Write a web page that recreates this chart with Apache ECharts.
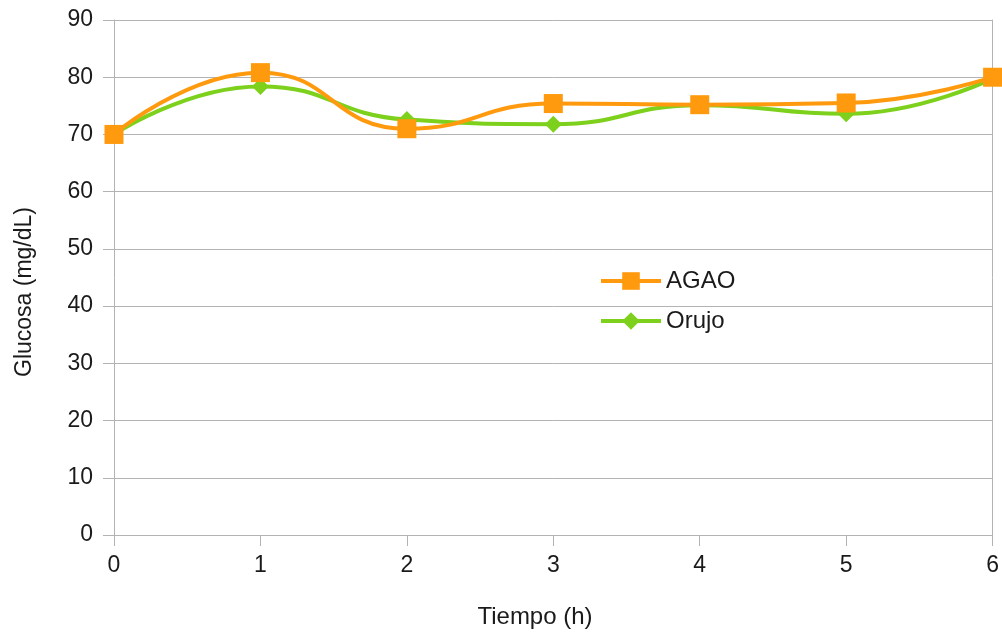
<!DOCTYPE html>
<html>
<head>
<meta charset="utf-8">
<script src="https://cdn.jsdelivr.net/npm/echarts@6/dist/echarts.min.js"></script>
<style>html,body{margin:0;padding:0;background:#fff}#c{width:1002px;height:632px}</style>
</head>
<body>
<div id="c"></div>
<script>
const tiempo = [0, 1, 2, 3, 4, 5, 6];
const agao = [70, 80.8, 71, 75.4, 75.2, 75.5, 80];
const orujo = [70, 78.4, 72.6, 71.8, 75.1, 73.6, 79.8];
const seriesNames = ['AGAO', 'Orujo'];
const xTitle = 'Tiempo (h)';
const yTitle = 'Glucosa (mg/dL)';

const FONT = 'Liberation Sans';
const TXT = '#1a1a1a';
const AX = '#b3b3b3';

const chart = echarts.init(document.getElementById('c'), null, {renderer: 'canvas'});
chart.setOption({
  animation: false,
  backgroundColor: '#fff',
  textStyle: {fontFamily: FONT},
  grid: {left: 114, right: 7, top: 20, bottom: 97, containLabel: false},
  legend: {
    orient: 'vertical', left: 594, top: 264,
    itemWidth: 60, itemHeight: 22, itemGap: 16,
    data: seriesNames,
    lineStyle: {width: 4},
    textStyle: {fontSize: 24, color: TXT, fontFamily: FONT, padding: [0, 0, 0, 0]}
  },
  xAxis: {
    type: 'value', min: 0, max: 6, interval: 1,
    axisLine: {show: true, onZero: false, lineStyle: {color: AX, width: 1}},
    axisTick: {show: true, length: 11, lineStyle: {color: AX}},
    axisLabel: {fontSize: 23, color: TXT, margin: 19, fontFamily: FONT},
    splitLine: {show: false}
  },
  yAxis: [{
    type: 'value', min: 0, max: 90, interval: 10,
    axisLine: {show: true, lineStyle: {color: AX, width: 1}},
    axisTick: {show: true, length: 11, lineStyle: {color: AX}},
    axisLabel: {fontSize: 23, color: TXT, margin: 21, fontFamily: FONT},
    splitLine: {show: true, lineStyle: {color: AX, width: 1}}
  }, {
    type: 'value', min: 0, max: 90, interval: 10, position: 'right',
    axisLine: {show: true, lineStyle: {color: AX, width: 1}},
    axisTick: {show: false}, axisLabel: {show: false}, splitLine: {show: false}
  }],
  graphic: [
    {type: 'text', x: 535, y: 617, style: {text: xTitle, fontSize: 24, fill: TXT, fontFamily: FONT, align: 'center', verticalAlign: 'middle'}},
    {type: 'text', rotation: Math.PI / 2, x: 25, y: 292, style: {text: yTitle, fontSize: 23, fill: TXT, fontFamily: FONT, align: 'center', verticalAlign: 'middle'}}
  ],
  series: [
    {
      name: seriesNames[0], type: 'line', z: 3, smooth: 0.5,
      data: tiempo.map((t, i) => [t, agao[i]]),
      symbol: 'rect', symbolSize: 19,
      lineStyle: {color: '#ff9a0e', width: 4},
      itemStyle: {color: '#ff9a0e'}
    },
    {
      name: seriesNames[1], type: 'line', z: 2, smooth: 0.5,
      data: tiempo.map((t, i) => [t, orujo[i]]),
      symbol: 'diamond', symbolSize: 17,
      lineStyle: {color: '#7dd11c', width: 4},
      itemStyle: {color: '#7dd11c'}
    }
  ]
});
</script>
</body>
</html>
